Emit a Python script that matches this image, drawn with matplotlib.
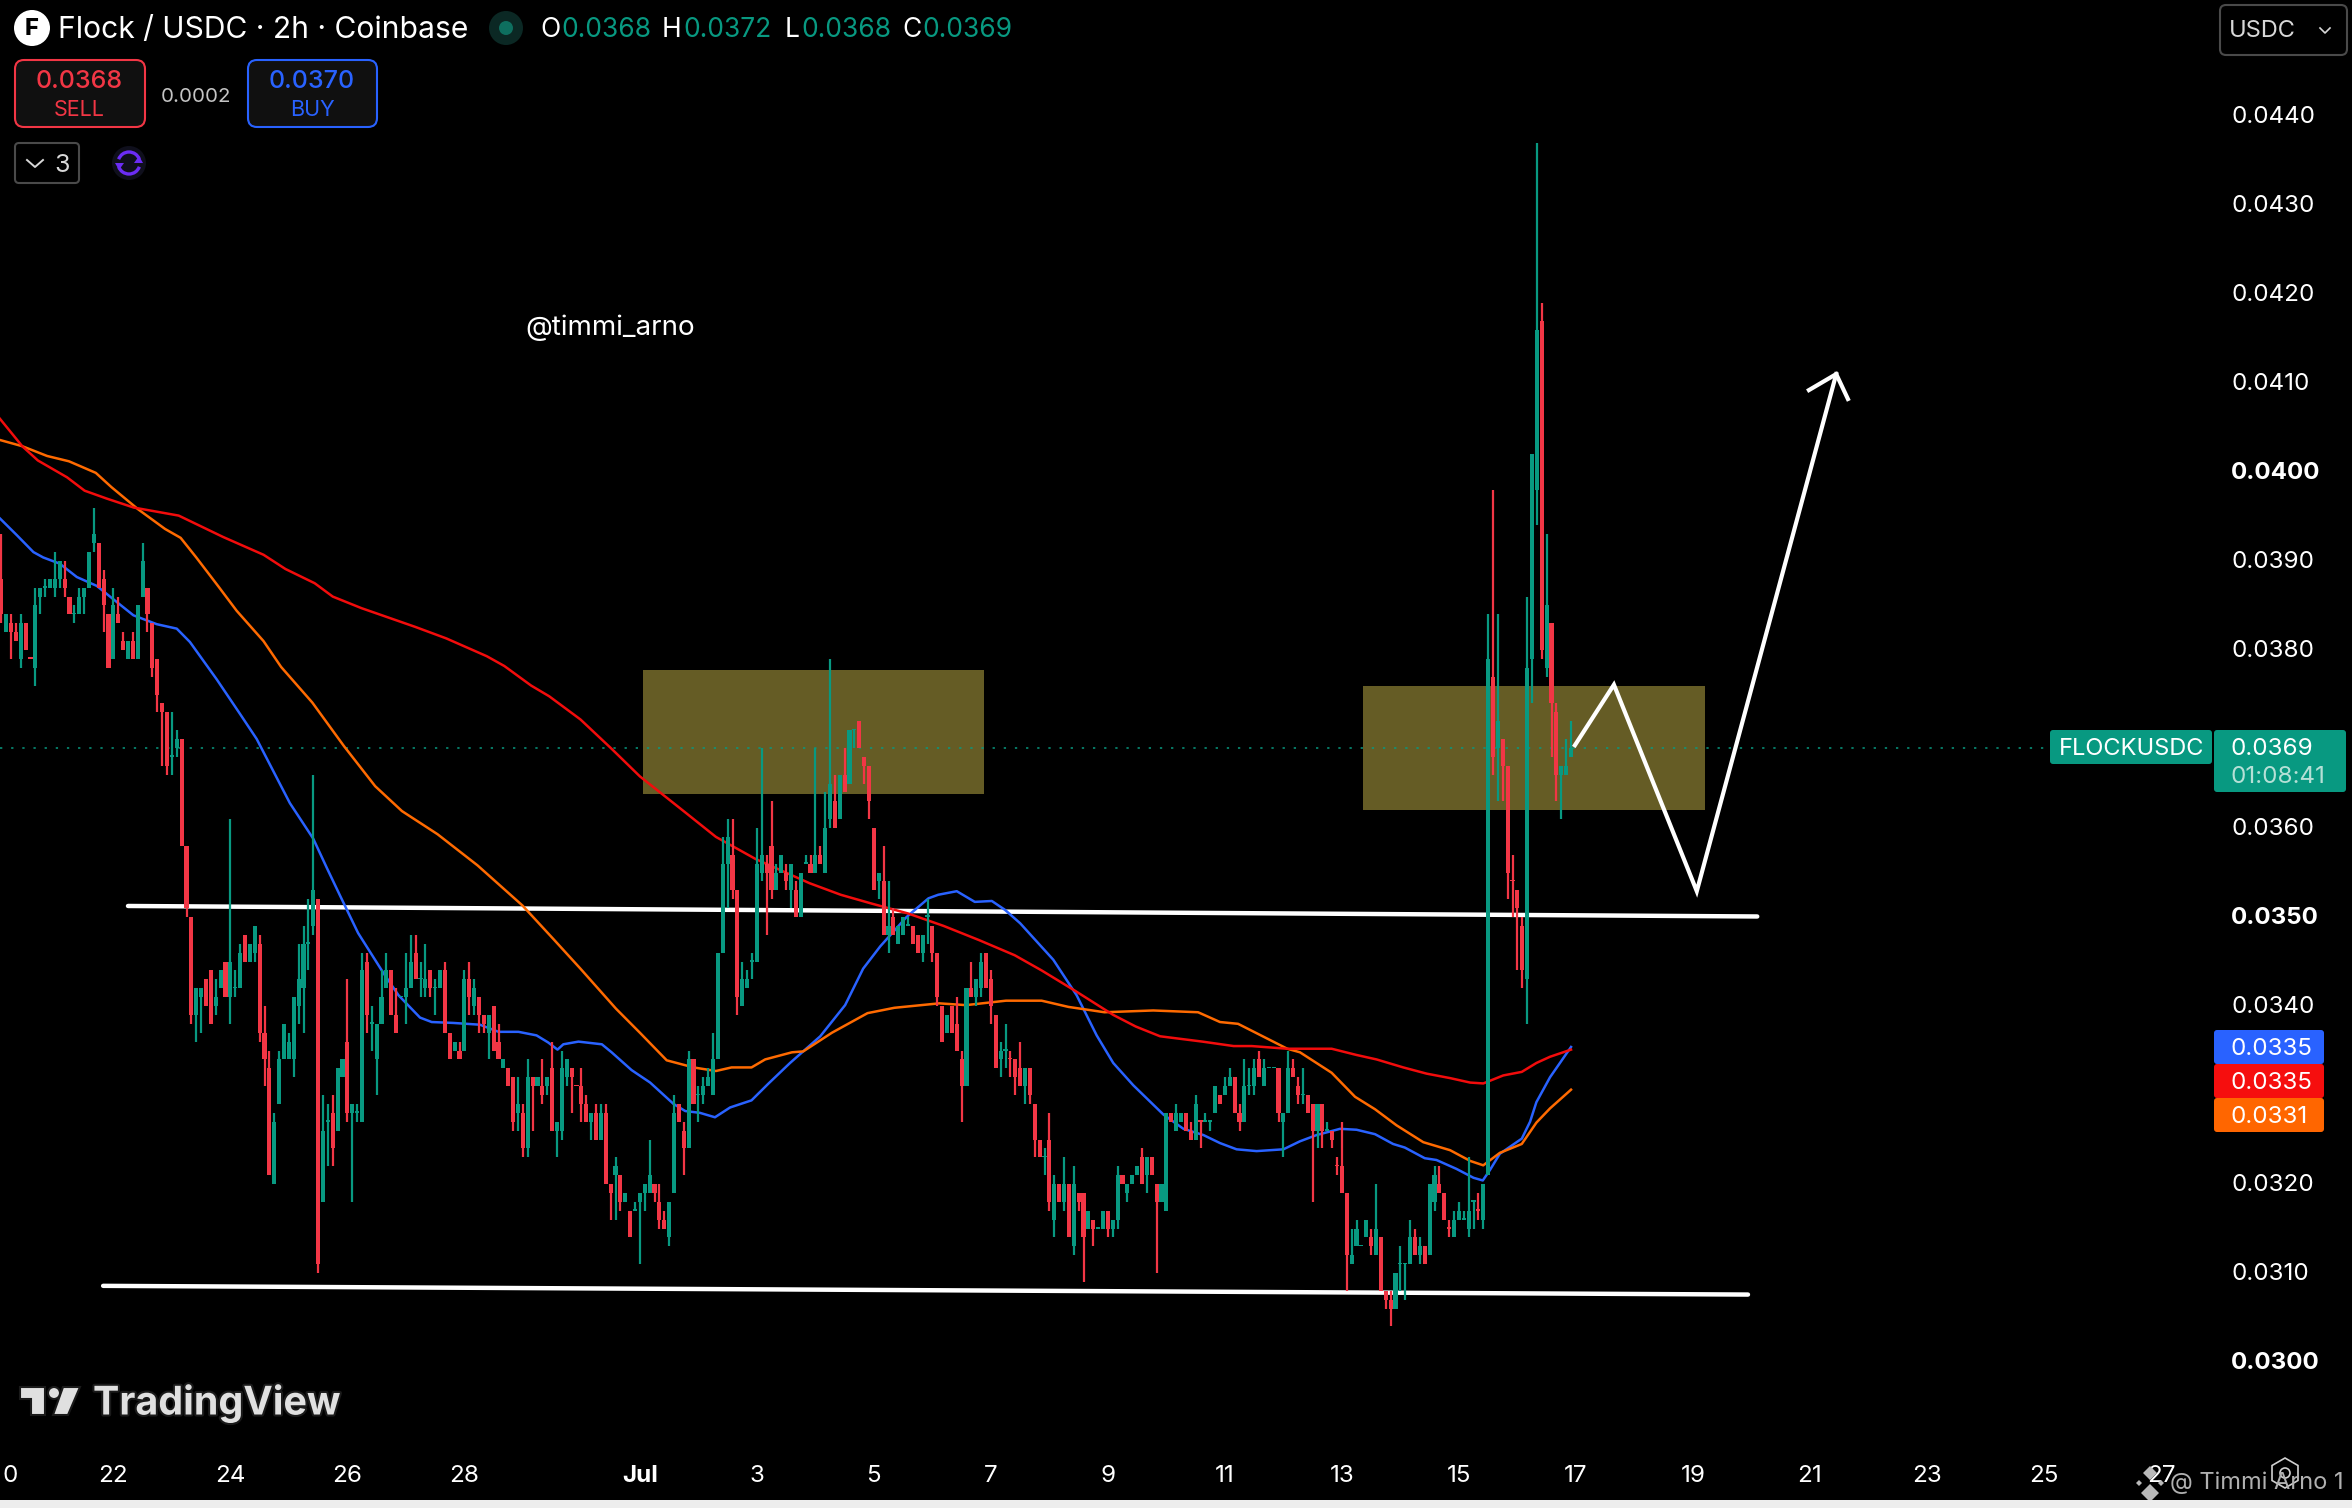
#!/usr/bin/env python3
# Flock / USDC 2h chart, TradingView dark layout with hand drawn zones and arrow
import matplotlib
matplotlib.use("Agg")
import matplotlib.pyplot as plt
from matplotlib.patches import Arc, Circle, FancyBboxPatch, Polygon, Rectangle, RegularPolygon
import matplotlib.patheffects as pe
from matplotlib.transforms import ScaledTranslation
import numpy as np

plt.rcParams['font.family'] = ['Inter', 'DejaVu Sans']

# candles, in units of 0.0001
opens = [
    388,382,383,382,379,383,379,378,386,387, 387,387,388,388,386,384,384,386,387,392,
    392,388,384,379,384,381,379,381,379,386, 387,383,379,374,373,368,369,370,358,350,
    339,341,343,344,340,342,345,341,342,342, 348,345,346,347,337,333,320,329,334,334,
    334,340,342,347,349,352,318,327,328,326, 332,336,328,328,327,345,338,334,338,342,
    344,339,341,341,342,346,343,342,344,342, 342,344,337,335,335,335,343,340,341,339,
    337,340,336,333,333,332,328,328,324,332, 331,331,331,333,326,326,332,333,331,331,
    329,327,328,325,328,320,321,321,318,317, 317,318,319,319,320,318,316,314,319,329,
    326,324,334,330,330,331,330,334,346,356, 357,353,340,342,345,345,355,356,358,353,
    355,355,353,353,350,356,356,355,357,355, 361,363,361,366,365,371,372,368,367,360,
    354,354,348,350,347,348,349,349,348,346, 350,349,346,340,337,340,338,334,331,342,
    341,342,346,343,339,334,335,334,334,333, 331,333,329,325,323,325,316,320,318,320,
    313,319,319,315,316,315,315,317,315,316, 321,319,320,321,323,321,323,320,318,317,
    328,326,327,328,326,325,327,327,327,328, 330,330,331,332,328,327,331,331,334,331,
    333,333,333,327,328,333,331,330,330,329, 326,329,326,326,322,322,319,311,313,313,
    314,314,312,314,308,307,306,311,311,311, 314,312,313,312,318,320,319,315,314,316,
    316,315,318,317,316,321,377,369,370,367, 354,353,349,343,379,398,417,378,383,373,
    366,366,368]
highs = [
    393,384,384,383,384,383,379,387,387,388, 388,391,390,390,386,385,387,387,391,396,
    392,389,384,387,386,382,381,382,385,392, 387,383,379,374,373,373,371,370,358,350,
    342,342,343,344,343,344,345,361,344,347, 348,347,349,348,340,335,328,335,338,337,
    341,347,349,352,366,352,330,329,330,333, 334,343,329,329,346,346,340,338,344,346,
    344,342,341,346,348,348,345,347,344,343, 344,345,337,336,336,344,345,343,341,339,
    339,340,338,334,333,332,332,329,334,332, 332,334,332,336,327,335,334,333,331,333,
    330,328,329,329,329,320,323,321,319,317, 318,319,320,325,320,320,317,318,330,329,
    327,335,334,331,332,333,337,346,359,361, 361,353,345,344,346,360,369,357,363,356,
    357,356,356,354,355,357,357,369,358,364, 379,366,366,369,371,371,372,368,367,360,
    355,358,354,351,349,350,350,349,348,348, 352,349,346,340,339,340,341,335,342,345,
    343,346,346,344,339,336,338,335,334,336, 333,333,329,325,324,328,321,320,323,320,
    322,319,319,317,316,315,317,317,316,322, 321,320,321,322,324,323,323,320,320,328,
    328,329,328,328,327,330,327,328,327,331, 330,332,333,332,329,334,333,334,335,334,
    333,333,333,328,335,334,332,333,330,329, 329,329,327,326,323,327,319,315,316,313,
    316,315,320,314,308,308,310,313,311,316, 315,314,313,320,322,322,319,316,317,318,
    317,323,318,319,320,384,398,384,370,367, 357,353,350,386,402,437,419,393,383,374,
    367,370,372]
lows = [
    383,382,379,381,378,380,379,376,384,386, 387,386,387,386,384,383,384,384,387,391,
    387,382,378,379,383,380,379,379,379,386, 382,377,373,367,366,366,368,358,350,338,
    336,337,340,338,339,342,341,338,341,342, 345,345,345,336,331,321,320,329,334,334,
    332,338,337,344,348,310,318,322,322,326, 332,327,318,327,327,337,335,330,338,342,
    339,337,341,338,342,343,341,341,341,339, 342,337,334,335,334,335,339,339,337,337,
    334,335,334,333,331,326,326,323,323,326, 331,329,330,326,323,325,331,328,331,327,
    327,325,325,325,320,316,316,317,318,314, 317,311,317,319,318,315,315,313,319,327,
    321,324,329,327,329,331,330,334,346,351, 352,339,340,342,343,345,354,348,352,353,
    355,353,351,350,350,356,355,355,356,355, 360,360,361,364,365,369,369,365,361,353,
    352,348,346,348,347,348,349,347,346,345, 347,345,340,336,337,337,335,327,331,341,
    340,341,342,338,333,332,333,332,330,331, 329,329,323,323,321,317,314,318,317,314,
    312,317,309,315,313,315,315,314,314,315, 320,318,320,321,320,319,321,310,318,317,
    327,326,327,326,325,325,324,327,326,328, 329,330,331,328,326,327,330,330,332,331,
    333,333,327,323,328,332,329,329,328,318, 324,324,326,324,321,319,308,311,313,313,
    314,312,312,308,306,304,306,308,307,311, 312,311,311,312,317,319,316,314,314,316,
    316,314,315,316,315,321,366,363,363,352, 350,344,342,338,374,394,379,377,368,363,
    361,366,368]
closes = [
    384,384,382,381,383,380,379,385,387,387, 388,388,390,387,384,384,386,387,391,393,
    387,385,378,385,383,380,381,379,385,390, 384,378,375,373,367,368,370,358,351,339,
    342,342,340,338,341,344,341,345,342,346, 345,347,349,337,334,321,327,334,338,336,
    341,343,347,347,353,311,326,327,324,333, 334,328,329,328,344,339,338,338,341,344,
    339,337,341,342,345,343,343,343,342,342, 344,337,334,336,334,343,341,342,339,338,
    339,335,334,334,331,327,329,324,332,331, 332,330,332,326,327,333,334,332,331,329,
    327,328,325,328,320,319,322,318,319,314, 317,319,320,321,319,316,315,318,328,327,
    324,334,329,330,331,332,334,346,356,359, 353,341,343,343,345,356,357,355,353,355,
    357,354,356,350,355,356,355,357,356,360, 365,360,366,364,371,371,369,367,363,353,
    355,348,349,348,349,350,349,347,346,348, 350,346,341,336,339,337,335,331,342,341,
    343,345,342,340,333,335,335,334,332,331, 333,330,325,323,323,318,320,318,320,314,
    320,318,314,317,315,315,317,315,316,321, 320,320,321,322,320,323,321,318,320,328,
    327,328,328,326,325,329,327,327,327,331, 329,331,332,328,327,331,331,333,332,333,
    333,333,328,328,333,332,330,330,328,326, 329,326,326,325,322,319,312,312,315,313,
    316,313,315,308,307,306,310,311,311,314, 312,313,311,320,321,319,316,315,316,317,
    316,317,318,317,320,379,368,372,367,355, 354,351,344,378,402,416,380,385,374,366,
    367,367,369]
# flat candles that were drawn red
red_doji = [6, 118, 207, 246, 274, 297, 303, 310]

# moving averages: bar position, price in 0.0001
blue_x = [-0.3,3.2,6.6,8.6,12,15.5,19.6,23,27.1,31.9,36,38.7,44.2,49,52.4,55.8,59.2,64,66.8,69.5,
          73.2,78.4,81.5,85.9,88.3,92.7,98.2,102,106.1,109.8,112.2,114.1,115.3,118.4,123.2,125.2,
          129.3,133.1,137.9,140.3,143.3,146.4,149.5,153.9,157.4,161.8,168,173.1,176.8,180.3,185.7,
          190.2,192.2,196,199.7,203.2,205.9,209,215.8,220.6,224.7,228.1,232.2,238.4,242.5,246.6,
          250,253.4,257.5,263,266.4,269.8,274.6,278,281.8,285.5,287.9,292,294.4,298.5,302,303.9,
          305.4,307.4,311.9,313.6,314.9,317.7,322]
blue_y = [394.8,392.9,391,390.4,389.7,388.2,387.2,385.7,383.9,382.9,382.4,380.9,376.7,372.8,370,366.4,362.8,358.8,355.5,352.4,
          348.2,343.7,341.2,338.7,338.2,338.1,337.9,337.1,337.1,336.7,335.9,335.1,335.7,336,335.7,334.8,
          332.8,331.4,329,328.2,328,327.5,328.6,329.4,331.3,333.6,336.6,340.1,344.2,346.7,350,
          352.1,352.5,352.9,351.7,351.8,350.8,349.3,345.2,341.2,336.7,333.6,331.1,327.8,326.2,325.5,
          324.6,323.9,323.7,323.9,324.8,325.5,326.2,326.1,325.6,324.5,324.1,322.9,322.7,321.7,320.7,320.4,
          321.6,323.4,325.1,327,329.2,332,335.4]
red_x = [-0.3,4.3,7.5,13.5,17.1,21.7,27.2,36.4,45.5,53.8,58.3,64.3,68,73.9,84.9,91.3,99.6,103.2,108.7,112.4,
         118.8,125.2,131,140.2,146.6,154.8,165.8,172.2,178.6,186,193.3,200.6,207.9,213.4,220.3,228.1,232.7,237.7,
         246.4,252.8,256.5,263.8,266.4,272.9,278,282.1,287.6,292.4,297.2,301.3,304,308.1,311.9,314.9,317.7,322]
red_y = [406,402.9,401.3,399.4,397.9,397,396,395.1,392.7,390.7,389.1,387.5,386,384.7,382.6,381.3,379.3,378.2,376,374.8,
         372.2,368.9,365.8,361.8,359,356.5,353.8,352.5,351.5,350.4,349,347.4,345.7,344,341.7,339,337.7,336.6,
         336,335.5,335.5,335.2,335.2,335.2,334.5,334,333.1,332.4,331.9,331.4,331.3,332.2,332.6,333.6,334.3,335.1]
orange_x = [-0.3,4.3,9.4,13.9,19.4,22.6,28.1,33.6,36.8,40,44.6,48.3,53.8,57.4,63.8,70.3,76.7,82.2,89.5,97.7,
            106.9,113.3,118.8,126.1,131,136.5,142,146.6,149.8,153.9,156.7,162.2,164.5,170.4,177.7,183.2,192.4,
            197.9,206.1,213.4,218.9,226.3,236.3,245.5,250,253.7,263.8,266.4,272.9,277.7,281.8,286.2,291.7,
            297.2,301.3,304,307.4,311.9,314.9,317.7,322]
orange_y = [403.6,402.9,401.8,401.2,399.9,398.3,395.8,393.6,392.6,390.4,387.1,384.4,381,378.1,374.1,369.2,364.7,361.9,359.3,355.8,
            351.3,347.5,344.2,339.7,337,333.9,333.1,332.7,333.1,333.1,334,334.8,334.9,337,339.2,339.8,340.3,
            340.1,340.6,340.6,339.9,339.3,339.5,339.3,338.2,338,335.2,334.8,332.5,329.8,328.4,326.6,324.7,
            323.8,322.6,322.1,323.5,324.5,326.9,328.5,330.6]

# drawings: bar positions, prices in 0.0001
zones = [(131.6, 201.6, 363.8, 377.75), (279.3, 349.5, 362.07, 375.96)]
level_lines = [((26.0, 360.2), (351.24, 350.06)), ((20.9, 358.3), (308.56, 307.58))]
path_x = [322.8, 330.8, 347.8, 376.4]
path_y = [369.3, 376.1, 352.9, 411.0]
head_x = [370.8, 376.4, 378.8]
head_y = [409.2, 411.0, 408.2]

# 0.0330 and 0.0370 sit behind the price labels
price_ticks = [300, 310, 320, 340, 350, 360, 380, 390, 400, 410, 420, 430, 440]
bold_prices = [300, 350, 400]
day_ticks = [20.23, 22, 24, 26, 28, 31, 33, 35, 37, 39, 41, 43, 45, 47, 49, 51, 53, 55, 57]
day_labels = ['0', '22', '24', '26', '28', 'Jul', '3', '5', '7', '9', '11', '13', '15', '17',
              '19', '21', '23', '25', '27']
last_price = 369

UNIT = 1e-4
GREEN = '#089981'
RED = '#F23645'
BLUE = '#2962FF'
LINE_RED = '#F20C0C'
ORANGE = '#FF6A00'
ZONE = '#655C25'
W, H = 2352, 1508

fig = plt.figure(figsize=(W / 100, H / 100), dpi=100, facecolor='black')
ax = fig.add_axes([0, 0, 1, 1], facecolor='black')
for s in ax.spines.values():
    s.set_visible(False)


def bar_of_day(d):
    return 23 + (d - 22) * 12


ax.set_xlim(-0.256, 482.2)
ax.set_ylim(283.6 * UNIT, 453.03 * UNIT)

# zones and levels go under everything
for x0, x1, y0, y1 in zones:
    ax.add_patch(Rectangle((x0, y0 * UNIT), x1 - x0, (y1 - y0) * UNIT, fc=ZONE, ec='none', zorder=1))
ax.plot([-0.256, 420.2], [last_price * UNIT] * 2, color=GREEN, lw=1.1, ls=(0, (1.5, 5.8)), zorder=1.6)
for xs, ys in level_lines:
    ax.plot(xs, np.array(ys) * UNIT, color='white', lw=3.2, solid_capstyle='round', zorder=2)

ax.plot(blue_x, np.array(blue_y) * UNIT, color=BLUE, lw=1.8, zorder=3)
ax.plot(orange_x, np.array(orange_y) * UNIT, color=ORANGE, lw=1.8, zorder=3)
ax.plot(red_x, np.array(red_y) * UNIT, color=LINE_RED, lw=1.8, zorder=3)

# candles
o = np.array(opens, dtype=float)
h = np.array(highs, dtype=float)
l = np.array(lows, dtype=float)
c = np.array(closes, dtype=float)
idx = np.arange(len(o))
up = c >= o
up[red_doji] = False
colors = np.where(up, GREEN, RED)
ax.vlines(idx, l * UNIT, h * UNIT, colors=colors, lw=1.6, zorder=4)
body_low = np.minimum(o, c)
body_h = np.maximum(np.abs(c - o), 0.17)
ax.bar(idx, body_h * UNIT, bottom=body_low * UNIT, width=0.85, color=colors, linewidth=0, zorder=4.1)

# arrow
ax.plot(path_x, np.array(path_y) * UNIT, color='white', lw=3.0, solid_joinstyle='miter', zorder=5)
ax.plot(head_x, np.array(head_y) * UNIT, color='white', lw=3.0, solid_joinstyle='miter', zorder=5)

# axes sit inside the picture
ax.yaxis.tick_right()
ax.set_yticks(np.array(price_ticks) * UNIT)
ax.set_yticklabels(['%.4f' % (p * UNIT) for p in price_ticks])
ax.tick_params(axis='y', length=0, pad=-87, labelsize=17.4, labelcolor='white')
for lab, p in zip(ax.get_yticklabels(), price_ticks):
    lab.set_horizontalalignment('left')
    if p in bold_prices:
        lab.set_fontweight('bold')
up_a_bit = ScaledTranslation(0, 1.5 / 100, fig.dpi_scale_trans)
for tick in ax.yaxis.get_major_ticks():
    tick.label2.set_transform(tick.label2.get_transform() + up_a_bit)
ax.set_xticks([bar_of_day(d) for d in day_ticks])
ax.set_xticklabels(day_labels)
ax.tick_params(axis='x', length=0, pad=-31, labelsize=17.4, labelcolor='white')
for lab, t in zip(ax.get_xticklabels(), day_labels):
    if t == 'Jul':
        lab.set_fontweight('bold')

# everything on the chart chrome is laid out in picture pixels
ui = fig.add_axes([0, 0, 1, 1], zorder=5)
ui.set_xlim(0, W)
ui.set_ylim(H, 0)
ui.axis('off')


def label(x, y, s, size, color='white', ha='left', **kw):
    # va=center sits a little high for digits and capitals
    return ui.text(x, y + 2, s, fontsize=size, color=color, ha=ha, va='center', **kw)


def box(x0, y0, x1, y1, fc, ec='none', lw=0, r=3):
    ui.add_patch(FancyBboxPatch((x0, y0), x1 - x0, y1 - y0, boxstyle='round,pad=0,rounding_size=%g' % r,
                                fc=fc, ec=ec, lw=lw))


# header
ui.add_patch(Circle((32, 28), 18, fc='white', ec='none'))
label(32, 27, 'F', 17, color='black', ha='center', fontweight='heavy')
label(58, 28, 'Flock / USDC · 2h · Coinbase', 21.6)
ui.add_patch(Circle((506, 28), 17, fc='#0B2824', ec='none'))
ui.add_patch(Circle((506, 28), 7, fc='#0E6F5F', ec='none'))
for x_l, letter, x_v, val in [(540, 'O', 561, '0.0368'), (662, 'H', 683, '0.0372'),
                              (785, 'L', 801, '0.0368'), (902, 'C', 922, '0.0369')]:
    label(x_l, 28, letter, 19)
    label(x_v, 28, val, 19, color=GREEN)

box(15, 60, 145, 127, '#101010', RED, 1.5, 9)
label(79, 79, '0.0368', 18, color=RED, ha='center', fontweight='medium')
label(79, 108, 'SELL', 15.5, color=RED, ha='center')
label(196, 95, '0.0002', 14.8, color='#C4C4C4', ha='center')
box(248, 60, 377, 127, '#101010', BLUE, 1.5, 9)
label(312, 79, '0.0370', 18, color=BLUE, ha='center', fontweight='medium')
label(312, 108, 'BUY', 15.5, color=BLUE, ha='center')

box(15, 143, 79, 183, 'black', '#4A4A4A', 1.5, 4)
ui.plot([27, 35, 43], [160, 167, 160], color='#D8D8D8', lw=1.4)
label(62, 163, '3', 18, color='#D8D8D8', ha='center')
ui.add_patch(Circle((129, 163), 17, fc='#0F0F1C', ec='none'))
ui.add_patch(Arc((129, 163), 22, 22, theta1=200, theta2=340, color='#6B2CF5', lw=2.4))
ui.add_patch(Arc((129, 163), 22, 22, theta1=20, theta2=160, color='#6B2CF5', lw=2.4))
ui.add_patch(Polygon([[115, 163], [124, 163], [119, 170]], fc='#6B2CF5', ec='none'))
ui.add_patch(Polygon([[134, 163], [143, 163], [139, 156]], fc='#6B2CF5', ec='none'))

box(2220, 5, 2347, 55, 'black', '#4A4A4A', 1.5, 6)
label(2262, 29, 'USDC', 17, color='#D8D8D8', ha='center')
ui.plot([2320, 2325, 2330], [28, 33, 28], color='#D8D8D8', lw=1.2)

label(525, 326, '@timmi_arno', 20)

# price labels on the right
box(2050, 730, 2212, 764, GREEN)
label(2059, 747, 'FLOCKUSDC', 17)
box(2214, 730, 2346, 792, GREEN)
label(2231, 747, '0.0369', 17.4)
label(2231, 775, '01:08:41', 17.4, color='#B5E0D6')
for y0, fc, txt in [(1030, BLUE, '0.0335'), (1064, '#F60E0E', '0.0335'), (1098, '#FF6600', '0.0331')]:
    box(2214, y0, 2324, y0 + 34, fc)
    label(2231, y0 + 17, txt, 17.4)

# TradingView mark
outline = [pe.withStroke(linewidth=3, foreground='#1A1A1A')]
for pts in ([[20, 1387], [45, 1387], [45, 1415], [31, 1415], [31, 1399], [20, 1399]],
            [[63, 1387], [80, 1387], [68, 1415], [53, 1415]]):
    ui.add_patch(Polygon(pts, fc='#E0E0E0', ec='#1A1A1A', lw=1.5))
ui.add_patch(Circle((54, 1393), 6, fc='#E0E0E0', ec='#1A1A1A', lw=1.5))
label(93, 1401, 'TradingView', 28.4, color='#E0E0E0', fontweight='bold', path_effects=outline)

# bottom right watermark
for dx, dy, r in [(0, -10, 7), (-11, 0, 3), (11, 0, 3), (0, 10, 9)]:
    ui.add_patch(RegularPolygon((2150 + dx, 1483 + dy), 4, radius=r, fc='#B9B9B9', ec='none'))
ui.add_patch(RegularPolygon((2285, 1473), 6, radius=15, fc='none', ec='#D0D0D0', lw=1.2))
ui.add_patch(Circle((2285, 1473), 5, fc='none', ec='#D0D0D0', lw=1.2))
label(2170, 1481, '@ Timmi Arno 1', 17, color='#B0B0B0')

# light strip along the bottom edge of the screenshot
ui.add_patch(Rectangle((0, 1500), W, 8, fc='#EDEDED', ec='none'))

assert len(o) == len(h) == len(l) == len(c) == 323
fig.savefig('out.png', dpi=100, facecolor='black')
